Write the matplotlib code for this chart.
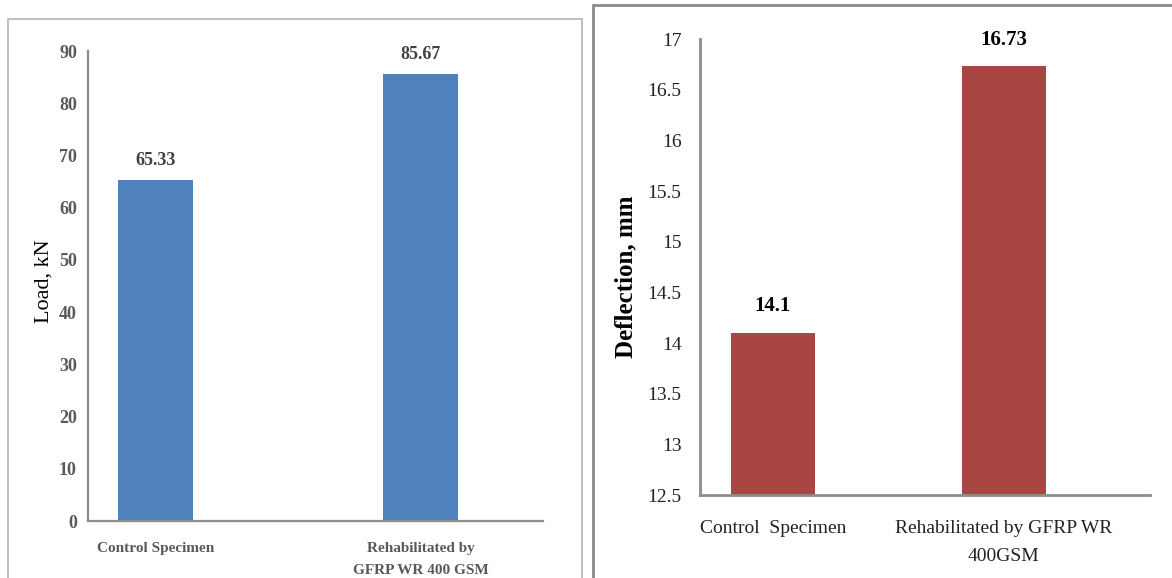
import matplotlib
matplotlib.use("Agg")
import matplotlib.pyplot as plt
from matplotlib.patches import Rectangle

# Data
load_categories = ["Control Specimen", "Rehabilitated by\nGFRP WR 400 GSM"]
load_values = [65.33, 85.67]
load_ticks = [0, 10, 20, 30, 40, 50, 60, 70, 80, 90]

defl_categories = ["Control  Specimen", "Rehabilitated by GFRP WR\n400GSM"]
defl_values = [14.1, 16.73]
defl_ticks = [12.5, 13, 13.5, 14, 14.5, 15, 15.5, 16, 16.5, 17]

W, H = 1172, 578
fig = plt.figure(figsize=(W / 100, H / 100), dpi=100)
serif = "Liberation Serif"

def fx(px):
    return px / W

def fy(py):
    return 1 - py / H

# panel borders
fig.add_artist(Rectangle((fx(8), fy(600)), fx(582) - fx(8), fy(19) - fy(600),
                         transform=fig.transFigure, fill=False, ec="#b4b4b4", lw=1.2))
fig.add_artist(Rectangle((fx(593), fy(600)), fx(1200) - fx(593), fy(5) - fy(600),
                         transform=fig.transFigure, fill=False, ec="#8a8a8a", lw=2))

# ---- Left panel: Load ----
ax1 = fig.add_axes([fx(88), fy(521), fx(543) - fx(88), fy(51) - fy(521)])
x1 = list(range(len(load_values)))
ax1.bar(x1, load_values, width=0.283, color="#4F81BD")
ax1.set_xlim(-0.254, 1.46)
ax1.set_ylim(0, 90)
ax1.set_yticks(load_ticks)
ax1.set_yticklabels([str(t) for t in load_ticks], family=serif, fontweight="bold",
                    fontsize=13, color="#595959")
ax1.set_xticks(x1)
ax1.set_xticklabels(load_categories, family=serif, fontweight="bold", fontsize=11,
                    color="#595959", linespacing=1.9)
ax1.tick_params(axis="both", length=0)
ax1.tick_params(axis="y", pad=8)
ax1.tick_params(axis="x", pad=15)
for s in ["top", "right"]:
    ax1.spines[s].set_visible(False)
for s in ["left", "bottom"]:
    ax1.spines[s].set_color("#8c8c8c")
    ax1.spines[s].set_linewidth(1.6)
ax1.set_ylabel("Load, kN", family=serif, fontsize=16, color="black")
ax1.yaxis.set_label_coords(-0.075, 0.511)
for xi, v in zip(x1, load_values):
    ax1.annotate(f"{v:.2f}", (xi, v), xytext=(0, 8), textcoords="offset points",
                 ha="center", va="bottom", family=serif, fontweight="bold",
                 fontsize=13, color="#404040")

# ---- Right panel: Deflection ----
ax2 = fig.add_axes([fx(699.5), fy(495), fx(1150) - fx(699.5), fy(39) - fy(495)])
x2 = list(range(len(defl_values)))
ax2.bar(x2, defl_values, width=0.364, color="#A84644")
ax2.set_xlim(-0.318, 1.632)
ax2.set_ylim(12.5, 17)
ax2.set_yticks(defl_ticks)
ax2.set_yticklabels([f"{t:g}" for t in defl_ticks], family=serif, fontsize=14,
                    color="#222222")
ax2.set_xticks(x2)
ax2.set_xticklabels(defl_categories, family=serif, fontsize=14, color="#222222",
                    linespacing=1.85)
ax2.tick_params(axis="both", length=0)
ax2.tick_params(axis="y", pad=13)
ax2.tick_params(axis="x", pad=18)
for s in ["top", "right"]:
    ax2.spines[s].set_visible(False)
for s in ["left", "bottom"]:
    ax2.spines[s].set_color("#8c8c8c")
    ax2.spines[s].set_linewidth(2)
ax2.set_ylabel("Deflection, mm", family=serif, fontweight="bold", fontsize=18,
               color="black")
ax2.yaxis.set_label_coords(-0.139, 0.478)
for xi, v in zip(x2, defl_values):
    ax2.annotate(f"{v:g}", (xi, v), xytext=(0, 12), textcoords="offset points",
                 ha="center", va="bottom", family=serif, fontweight="bold",
                 fontsize=15, color="black")

fig.savefig("out.png", dpi=100)
